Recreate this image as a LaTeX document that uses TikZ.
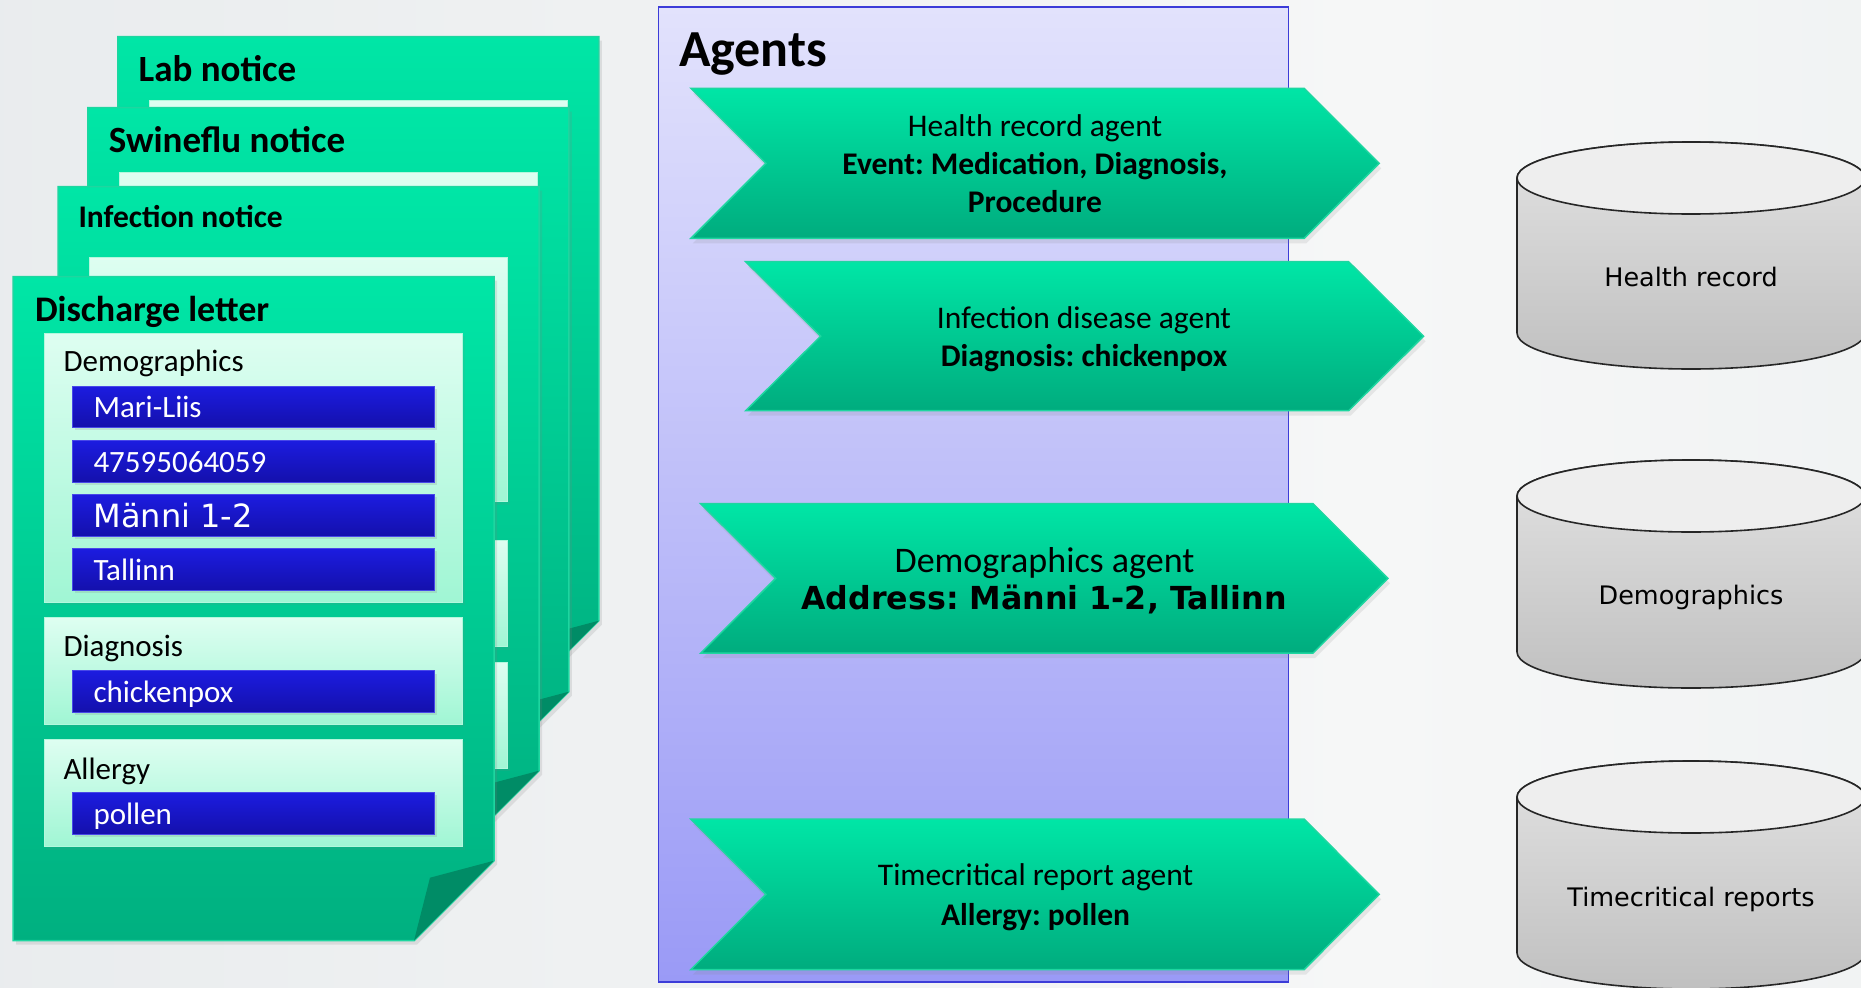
\documentclass[tikz,border=0pt]{standalone}
\usepackage{fontspec}
\setmainfont{Carlito}
\newfontfamily\vfont{DejaVu Sans}
\usetikzlibrary{shadows}
\frenchspacing
\newcommand\fsz[1]{\fontsize{#1}{#1}\selectfont}
\definecolor{bgL}{RGB}{225,229,232}
\definecolor{bgM}{RGB}{246,247,247}
\definecolor{bgR}{RGB}{231,234,236}
\definecolor{docTop}{RGB}{0,230,166}
\definecolor{docBot}{RGB}{0,176,128}
\definecolor{docEdge}{RGB}{30,214,160}
\definecolor{foldC}{RGB}{0,140,102}
\definecolor{pnlTop}{RGB}{222,254,241}
\definecolor{pnlBot}{RGB}{160,246,212}
\definecolor{blueTop}{RGB}{28,28,224}
\definecolor{blueBot}{RGB}{20,16,172}
\definecolor{blueEdge}{RGB}{72,72,232}
\definecolor{agTop}{RGB}{226,226,252}
\definecolor{agBot}{RGB}{154,154,246}
\definecolor{agEdge}{RGB}{60,60,216}
\definecolor{arTop}{RGB}{0,230,166}
\definecolor{arBot}{RGB}{0,172,126}
\definecolor{cylTop}{RGB}{238,238,238}
\definecolor{cylBot}{RGB}{192,192,192}
\pgfdeclarehorizontalshading{bgsh}{100bp}{color(0bp)=(bgL); color(62bp)=(bgM); color(100bp)=(bgR)}
\tikzset{
  docbody/.style={top color=docTop, bottom color=docBot, draw=docEdge, line width=1.5pt,
    drop shadow={opacity=0.18, shadow xshift=3pt, shadow yshift=-4pt}},
  pnl/.style={top color=pnlTop, bottom color=pnlBot, draw=pnlBot!80!white, line width=1pt,
    drop shadow={opacity=0.12, shadow xshift=2pt, shadow yshift=-3pt}},
  bluebox/.style={top color=blueTop, bottom color=blueBot, draw=blueEdge, line width=1pt,
    drop shadow={opacity=0.2, shadow xshift=2pt, shadow yshift=-3pt}},
  agpanel/.style={top color=agTop, bottom color=agBot, draw=agEdge, line width=1.8pt},
  chev/.style={top color=arTop, bottom color=arBot, draw=docEdge, line width=1.5pt,
    drop shadow={opacity=0.15, shadow xshift=2pt, shadow yshift=-5pt}},
  cylbody/.style={top color=cylTop!95!black, bottom color=cylBot, draw=black!85, line width=1.6pt},
  cyltop/.style={fill=cylTop, draw=black!85, line width=1.6pt},
  doctitle/.style={anchor=base west, inner sep=0pt, font=\bfseries},
  pnllabel/.style={anchor=base west, inner sep=0pt, font=\fsz{31}},
  boxtext/.style={anchor=base west, inner sep=0pt, text=white, font=\fsz{31}},
  agreg/.style={anchor=base, inner sep=0pt, font=\fsz{31.5}},
  agbold/.style={anchor=base, inner sep=0pt, font=\bfseries\fsz{31.5}},
  cyltext/.style={anchor=base, inner sep=0pt, font=\vfont\fsz{25.5}}
}
\newcommand\docshape[2]{%
  \path[docbody] (#1,#2) -- ++(481,0) -- ++(0,584) -- ++(-80,80) -- ++(-401,0) -- cycle;
  \fill[foldC] ({#1+481},{#2+584}) -- ({#1+417},{#2+601}) -- ({#1+401},{#2+664}) -- cycle;}
\newcommand\chevshape[4]{% left, top, tip x, height
  \path[chev] (#1,#2) -- ({#3-75},#2) -- (#3,{#2+#4/2}) -- ({#3-75},{#2+#4}) -- (#1,{#2+#4}) -- ({#1+75},{#2+#4/2}) -- cycle;}
\newcommand\cylshape[3]{% center x, top ellipse center y, bottom ellipse center y
  \path[cylbody] ({#1-174},#2) -- ({#1-174},#3) arc[start angle=180, end angle=0, x radius=174, y radius=36]
    -- ({#1+174},#2) arc[start angle=0, end angle=-180, x radius=174, y radius=36] -- cycle;
  \path[cyltop] (#1,#2) ellipse[x radius=174, y radius=36];}
\begin{document}
\begin{tikzpicture}[x=1pt,y=-1pt]
\useasboundingbox (0,0) rectangle (1861,988);
\clip (0,0) rectangle (1861,988);
\shade[shading=bgsh] (0,0) rectangle (1861,988);

% ---------- stacked documents ----------
\docshape{117.8}{36.7}
\path[pnl] (149,100.7) rectangle (567.8,420);
\node[doctitle, font=\bfseries\fsz{37}] (labT) at (138.4,81.7) {Lab notice};

\docshape{87.8}{107.7}
\path[pnl] (119.4,172) rectangle (537.7,470);
\node[doctitle, font=\bfseries\fsz{37}] (swineT) at (108.7,152.7) {Swineflu notice};

\docshape{58.1}{186.7}
\path[pnl] (89.8,257.3) rectangle (507.7,501.7);
\path[pnl] (89.8,540) rectangle (507.7,646.7);
\path[pnl] (89.8,662.7) rectangle (507.7,768);
\node[doctitle, font=\bfseries\fsz{31.5}] (infT) at (78.3,227.7) {Infection notice};

\docshape{13}{276.7}
\node[doctitle, font=\bfseries\fsz{36}] (disT) at (34.8,321.7) {Discharge letter};
\path[pnl] (44.3,333.3) rectangle (462.6,602.3);
\path[pnl] (44.3,617.7) rectangle (462.6,724);
\path[pnl] (44.3,739.3) rectangle (462.6,846.7);
\node[pnllabel] (demL) at (63.3,371.7) {Demographics};
\node[pnllabel] (diaL) at (63.3,656.7) {Diagnosis};
\node[pnllabel] (allL) at (63.3,779) {Allergy};
\path[bluebox] (72.8,386) rectangle (434.5,427.3);
\path[bluebox] (72.8,440.3) rectangle (434.5,482);
\path[bluebox] (72.8,494.3) rectangle (434.5,536.3);
\path[bluebox] (72.8,548.3) rectangle (434.5,590.3);
\path[bluebox] (72.8,670.7) rectangle (434.5,712.3);
\path[bluebox] (72.8,792.3) rectangle (434.5,834);
\node[boxtext] (b1) at (93.3,417.7) {Mari-Liis};
\node[boxtext] (b2) at (93.3,472.4) {47595064059};
\node[boxtext, font=\vfont\fsz{32}] (b3) at (93.3,527.2) {Männi 1-2};
\node[boxtext] (b4) at (93.3,580.7) {Tallinn};
\node[boxtext] (b5) at (93.3,702.7) {chickenpox};
\node[boxtext] (b6) at (93.3,824.4) {pollen};

% ---------- agents panel ----------
\path[agpanel] (658.4,7.3) rectangle (1288.5,981.7);
\node[anchor=base west, inner sep=0pt, font=\bfseries\fsz{52}] (agT) at (678.8,66.7) {Agents};

\chevshape{690.9}{88.3}{1379.2}{150}
\node[agreg] (h1) at (1035,136.7) {Health record agent};
\node[agbold] (h2) at (1035,174) {Event: Medication, Diagnosis,};
\node[agbold] (h3) at (1035,212.3) {Procedure};

\chevshape{745.7}{261.7}{1423.6}{149}
\node[agreg] (i1) at (1084,328.3) {Infection disease agent};
\node[agbold] (i2) at (1084,366) {Diagnosis: chickenpox};

\chevshape{700.6}{503.6}{1387.9}{149.6}
\node[agreg, font=\fsz{36}] (d1) at (1044.5,572) {Demographics agent};
\node[agbold, font=\vfont\bfseries\fsz{31.7}] (d2) at (1044,609.5) {Address: Männi 1-2, Tallinn};

\chevshape{690.9}{819.2}{1379.2}{150.3}
\node[agreg] (t1) at (1035.5,885.6) {Timecritical report agent};
\node[agbold] (t2) at (1035.5,925.1) {Allergy: pollen};

% ---------- data stores ----------
\cylshape{1691}{178}{333}
\node[cyltext] (c1) at (1691,286) {Health record};
\cylshape{1691}{496}{652}
\node[cyltext] (c2) at (1691,604.4) {Demographics};
\cylshape{1691}{797}{953}
\node[cyltext] (c3) at (1691,906) {Timecritical reports};
\end{tikzpicture}
\end{document}
